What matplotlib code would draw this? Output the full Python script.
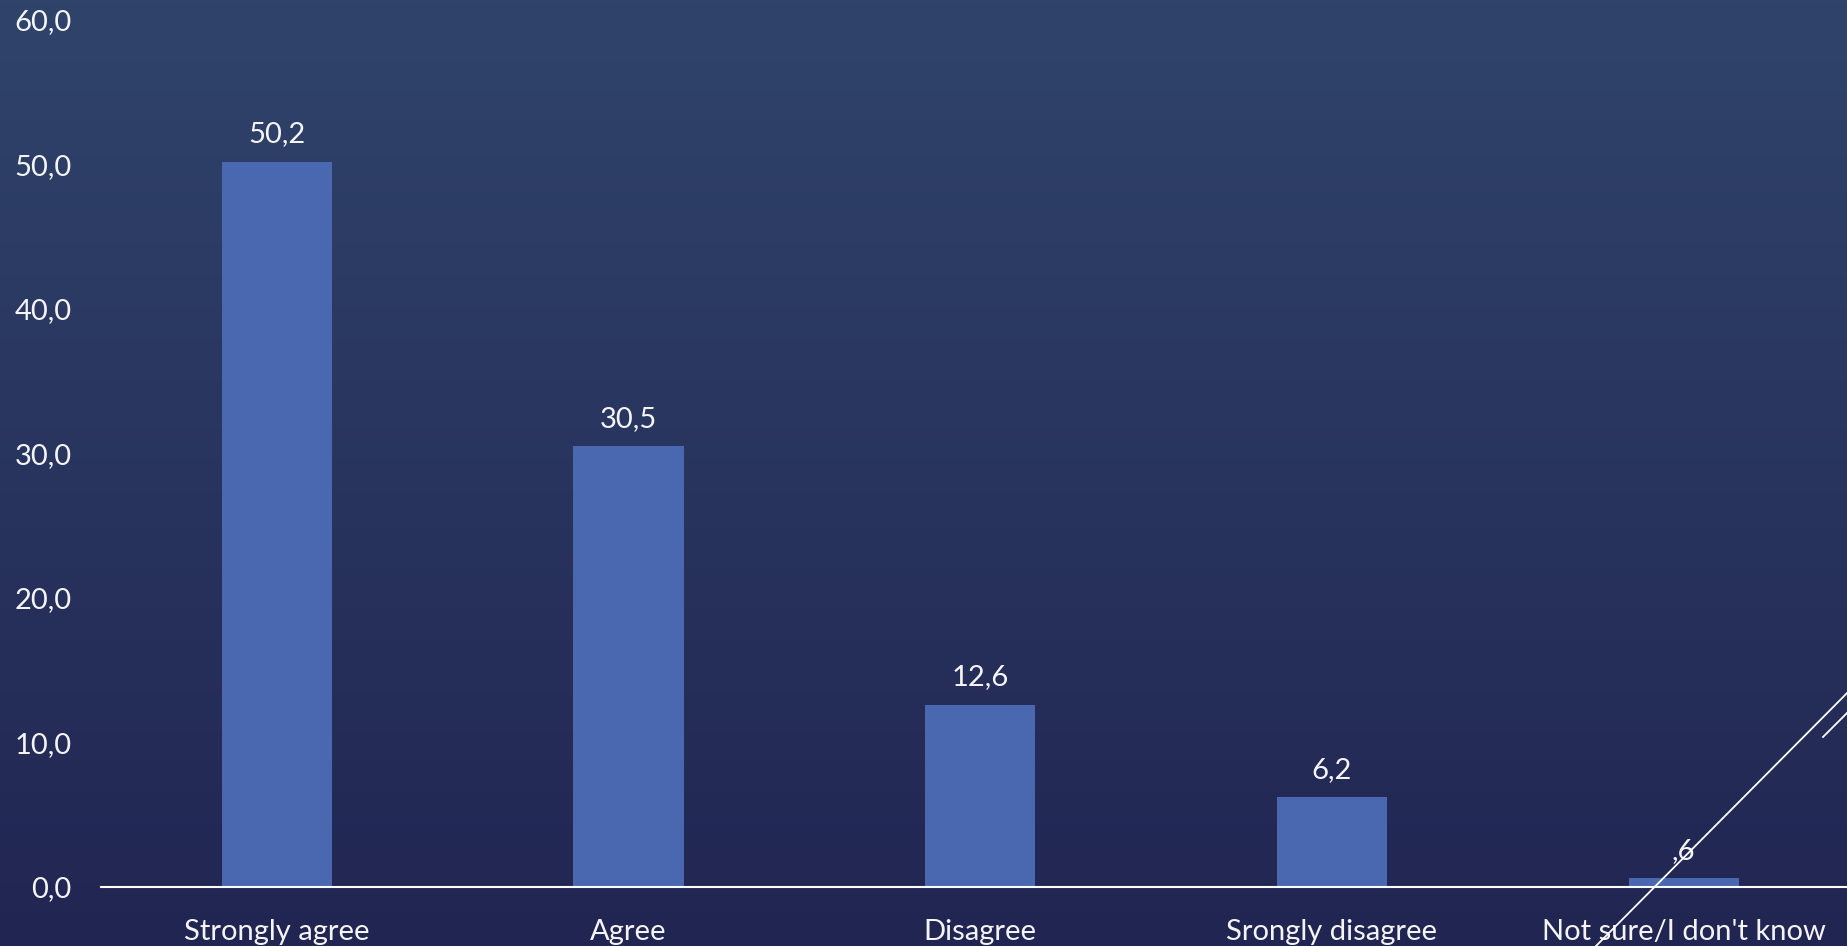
import numpy as np
import matplotlib
matplotlib.use('Agg')
import matplotlib.pyplot as plt
from matplotlib.lines import Line2D

# Dữ liệu
categories = ['Strongly agree', 'Agree', 'Disagree', 'Srongly disagree', "Not sure/I don't know"]
values = [50.2, 30.5, 12.6, 6.2, 0.6]
yticks = [0, 10, 20, 30, 40, 50, 60]


def comma_fmt(v):
    s = ('%.1f' % v).replace('.', ',')
    if s.startswith('0,') and v != 0:
        s = s[1:]
    return s


plt.rcParams['font.family'] = ['Lato', 'DejaVu Sans']
txt_color = '#f4f4f4'
bar_color = '#4a68b0'
fs = 21

fig = plt.figure(figsize=(18.47, 9.46), dpi=100)

# nền gradient
bg = fig.add_axes([0, 0, 1, 1], zorder=-1)
top = np.array([0x30, 0x44, 0x6b]) / 255
bot = np.array([0x21, 0x25, 0x52]) / 255
t = np.linspace(0, 1, 256)[:, None]
grad = top[None, :] * (1 - t) + bot[None, :] * t
bg.imshow(grad[:, None, :], aspect='auto', extent=[0, 1, 0, 1])
bg.set_axis_off()

ax = fig.add_axes([0.0547, 0.0624, 0.952, 0.9165])
ax.patch.set_alpha(0)
x = np.arange(len(categories))
bars = ax.bar(x, values, width=0.313, color=bar_color, zorder=2)
for xi, v in zip(x, values):
    ax.annotate(comma_fmt(v), (xi, v), xytext=(0, 14), textcoords='offset points',
                ha='center', va='baseline', color=txt_color, fontsize=fs)

ax.set_xlim(-0.5, 4.5)
ax.set_ylim(0, 60)
ax.set_yticks(yticks)
ax.set_yticklabels([comma_fmt(v) for v in yticks])
ax.set_xticks(x)
ax.set_xticklabels(categories)
ax.tick_params(axis='y', length=0, pad=21, labelsize=fs, labelcolor=txt_color)
ax.tick_params(axis='x', length=0, pad=23, labelsize=fs, labelcolor=txt_color)
for s in ['top', 'right', 'left']:
    ax.spines[s].set_visible(False)
ax.spines['bottom'].set_color('white')
ax.spines['bottom'].set_linewidth(1.5)
ax.spines['bottom'].set_zorder(3)

# đường trang trí góc phải dưới
W, H = 1847, 946
fig.add_artist(Line2D([1596 / W, 1.0 + 10 / W], [0, (946 - 683) / H],
                      transform=fig.transFigure, color='white', lw=1.3))
fig.add_artist(Line2D([1823 / W, 1.0 + 10 / W], [(946 - 737) / H, (946 - 703) / H],
                      transform=fig.transFigure, color='white', lw=1.3))

fig.savefig('out.png', dpi=100)
